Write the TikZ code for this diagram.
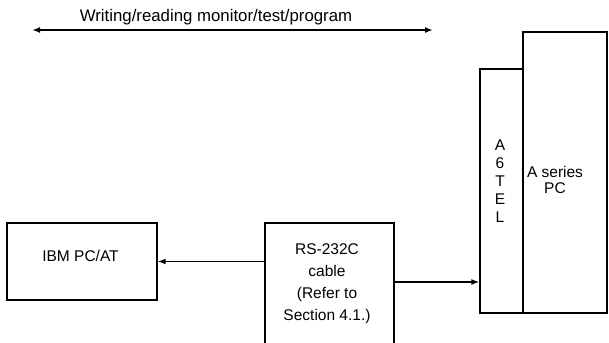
\documentclass[tikz,border=0pt]{standalone}
\usepackage{fontspec}
\setmainfont{Liberation Sans}
\usetikzlibrary{arrows.meta}
\begin{document}
\begin{tikzpicture}[x=1pt,y=-1pt,
  box/.style={draw, line width=1.3pt, inner sep=0pt},
  lbl/.style={font=\fontsize{15.5}{22}\selectfont, align=center, inner sep=0pt},
  conn/.style={line width=1.7pt, -{Latex[length=8pt,width=6pt]}},
  both/.style={line width=1.7pt, {Latex[length=8pt,width=6pt]}-{Latex[length=8pt,width=6pt]}}]
\useasboundingbox (0,0) rectangle (609,342);
\clip (0,0) rectangle (609,342);
% boxes
\node[box, minimum width=150pt, minimum height=77pt] (ibm) at (82,261.5) {};
\node[box, minimum width=129pt, minimum height=129pt] (cable) at (329.5,287.5) {};
\node[box, minimum width=43pt, minimum height=244pt] (a6) at (501.5,191) {};
\node[box, minimum width=84pt, minimum height=281pt] (aser) at (565,172.5) {};
% labels
\node[lbl] (ibmt) at (80.5,256) {IBM PC/AT};
\node[lbl] (cablet) at (327,284) {RS-232C\\cable\\(Refer to\\Section 4.1.)};
\node[lbl, font=\fontsize{15.5}{18}\selectfont] (a6t) at (500,181) {A\\6\\T\\E\\L};
\node[lbl, font=\fontsize{15.5}{16}\selectfont] (asert) at (555,180) {A series\\PC};
\node[lbl, font=\fontsize{16.8}{20}\selectfont] (topt) at (216,17) {Writing/reading monitor/test/program};
% connectors
\coordinate (tl) at (32,30);
\coordinate (tr) at (433,30);
\coordinate (ry) at (0,282);
\draw[both] (tl) -- (tr);
\draw[conn] (cable.west |- ibm.east) -- (ibm.east);
\draw[conn] (cable.east |- ry) -- (a6.west |- ry);
\end{tikzpicture}
\end{document}
